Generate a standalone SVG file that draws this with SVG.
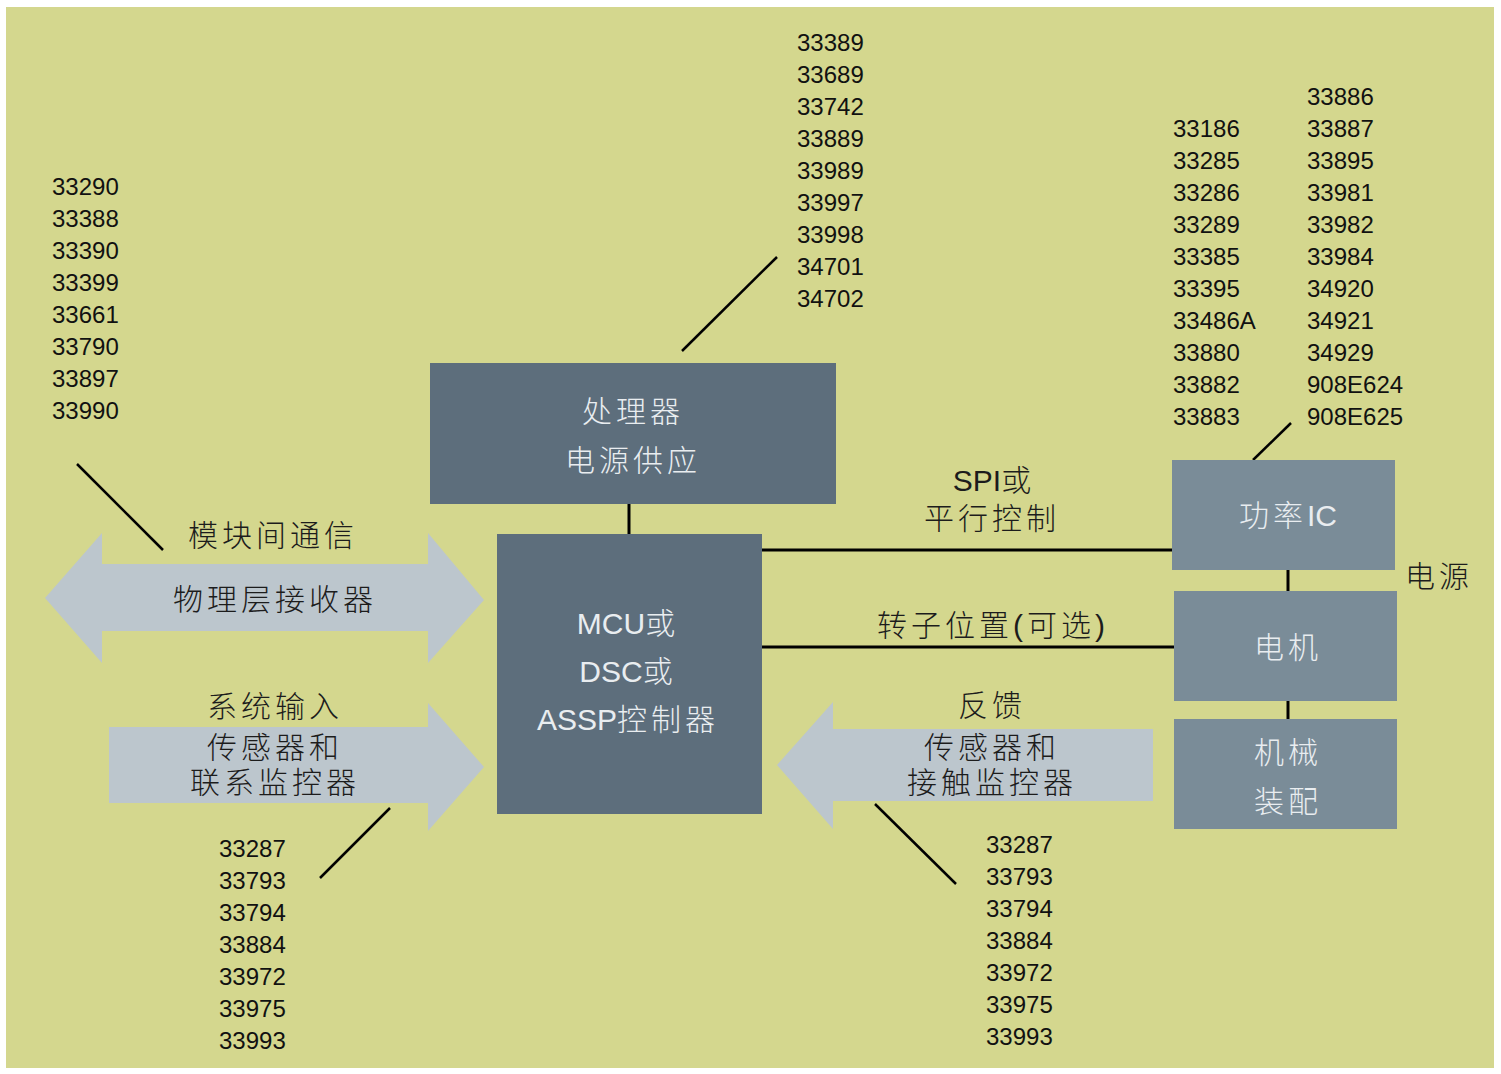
<svg xmlns="http://www.w3.org/2000/svg" width="1501" height="1074" viewBox="0 0 1501 1074">
<style>
.num{font-family:"Liberation Sans","Noto Sans",sans-serif;font-size:24px;fill:#111}
.lbl{font-family:"Liberation Sans","Noto Sans CJK SC",sans-serif;font-size:30px;font-weight:300;fill:#1c1c1c;text-anchor:middle}
.in{fill:#e9edf0}
.cj{letter-spacing:4px}
.dark{fill:#5d6e7c}
.light{fill:#7a8c98}
.arr{fill:#bcc6cd}
.ln{stroke:#000;stroke-width:3;fill:none}
.dg{stroke:#000;stroke-width:2.5;fill:none}
</style>
<rect x="6" y="7" width="1488" height="1061" fill="#d4d78e"/>

<g id="connectors">
<line class="ln" x1="629" y1="503" x2="629" y2="535"/>
<line class="ln" x1="761" y1="550" x2="1173" y2="550"/>
<line class="ln" x1="761" y1="647" x2="1175" y2="647"/>
<line class="ln" x1="1288" y1="569" x2="1288" y2="592"/>
<line class="ln" x1="1288" y1="700" x2="1288" y2="720"/>
<line class="dg" x1="682" y1="351" x2="777" y2="257"/>
<line class="dg" x1="77" y1="464" x2="163" y2="550"/>
<line class="dg" x1="320" y1="878" x2="390" y2="808"/>
<line class="dg" x1="875" y1="804" x2="956" y2="884"/>
<line class="dg" x1="1253" y1="460" x2="1291" y2="423"/>
</g>

<g id="phy-arrow">
<polygon class="arr" points="45,598 102,533 102,564 428,564 428,533 484,600 428,663 428,631 102,631 102,663"/>
<text class="lbl" x="273" y="546"><tspan class="cj">模块间通信</tspan></text>
<text class="lbl" x="275" y="610"><tspan class="cj">物理层接收器</tspan></text>
</g>

<g id="input-arrow">
<polygon class="arr" points="109,727 428,727 428,703 484,767 428,831 428,803 109,803"/>
<text class="lbl" x="275" y="717"><tspan class="cj">系统输入</tspan></text>
<text class="lbl" x="275" y="758"><tspan class="cj">传感器和</tspan></text>
<text class="lbl" x="275" y="793"><tspan class="cj">联系监控器</tspan></text>
</g>

<g id="feedback-arrow">
<polygon class="arr" points="1153,729 833,729 833,702 777,765 833,829 833,801 1153,801"/>
<text class="lbl" x="992" y="716"><tspan class="cj">反馈</tspan></text>
<text class="lbl" x="992" y="758"><tspan class="cj">传感器和</tspan></text>
<text class="lbl" x="992" y="793"><tspan class="cj">接触监控器</tspan></text>
</g>

<g id="psu">
<rect class="dark" x="430" y="363" width="406" height="141"/>
<text class="lbl in" x="633" y="422"><tspan class="cj">处理器</tspan></text>
<text class="lbl in" x="633" y="471"><tspan class="cj">电源供应</tspan></text>
</g>

<g id="mcu">
<rect class="dark" x="497" y="534" width="265" height="280"/>
<text class="lbl in" x="626" y="634">MCU或</text>
<text class="lbl in" x="626" y="682">DSC或</text>
<text class="lbl in" x="628" y="730">ASSP<tspan class="cj">控制器</tspan></text>
</g>

<g id="power-ic">
<rect class="light" x="1172" y="460" width="223" height="110"/>
<text class="lbl in" x="1288" y="526"><tspan class="cj">功率</tspan>IC</text>
</g>

<g id="motor">
<rect class="light" x="1174" y="591" width="223" height="110"/>
<text class="lbl in" x="1288" y="658"><tspan class="cj">电机</tspan></text>
</g>

<g id="mech">
<rect class="light" x="1174" y="719" width="223" height="110"/>
<text class="lbl in" x="1288" y="763"><tspan class="cj">机械</tspan></text>
<text class="lbl in" x="1288" y="812"><tspan class="cj">装配</tspan></text>
</g>

<g id="labels">
<text class="lbl" x="992" y="491">SPI或</text>
<text class="lbl" x="992" y="529"><tspan class="cj">平行控制</tspan></text>
<text class="lbl" x="993" y="636"><tspan class="cj">转子位置(可选)</tspan></text>
<text class="lbl" x="1439" y="587"><tspan class="cj">电源</tspan></text>
</g>

<g id="nums-top">
<text class="num" x="797" y="51">33389</text>
<text class="num" x="797" y="83">33689</text>
<text class="num" x="797" y="115">33742</text>
<text class="num" x="797" y="147">33889</text>
<text class="num" x="797" y="179">33989</text>
<text class="num" x="797" y="211">33997</text>
<text class="num" x="797" y="243">33998</text>
<text class="num" x="797" y="275">34701</text>
<text class="num" x="797" y="307">34702</text>
</g>

<g id="nums-left">
<text class="num" x="52" y="195">33290</text>
<text class="num" x="52" y="227">33388</text>
<text class="num" x="52" y="259">33390</text>
<text class="num" x="52" y="291">33399</text>
<text class="num" x="52" y="323">33661</text>
<text class="num" x="52" y="355">33790</text>
<text class="num" x="52" y="387">33897</text>
<text class="num" x="52" y="419">33990</text>
</g>

<g id="nums-right1">
<text class="num" x="1173" y="137">33186</text>
<text class="num" x="1173" y="169">33285</text>
<text class="num" x="1173" y="201">33286</text>
<text class="num" x="1173" y="233">33289</text>
<text class="num" x="1173" y="265">33385</text>
<text class="num" x="1173" y="297">33395</text>
<text class="num" x="1173" y="329">33486A</text>
<text class="num" x="1173" y="361">33880</text>
<text class="num" x="1173" y="393">33882</text>
<text class="num" x="1173" y="425">33883</text>
</g>

<g id="nums-right2">
<text class="num" x="1307" y="105">33886</text>
<text class="num" x="1307" y="137">33887</text>
<text class="num" x="1307" y="169">33895</text>
<text class="num" x="1307" y="201">33981</text>
<text class="num" x="1307" y="233">33982</text>
<text class="num" x="1307" y="265">33984</text>
<text class="num" x="1307" y="297">34920</text>
<text class="num" x="1307" y="329">34921</text>
<text class="num" x="1307" y="361">34929</text>
<text class="num" x="1307" y="393">908E624</text>
<text class="num" x="1307" y="425">908E625</text>
</g>

<g id="nums-bl">
<text class="num" x="219" y="857">33287</text>
<text class="num" x="219" y="889">33793</text>
<text class="num" x="219" y="921">33794</text>
<text class="num" x="219" y="953">33884</text>
<text class="num" x="219" y="985">33972</text>
<text class="num" x="219" y="1017">33975</text>
<text class="num" x="219" y="1049">33993</text>
</g>

<g id="nums-br">
<text class="num" x="986" y="853">33287</text>
<text class="num" x="986" y="885">33793</text>
<text class="num" x="986" y="917">33794</text>
<text class="num" x="986" y="949">33884</text>
<text class="num" x="986" y="981">33972</text>
<text class="num" x="986" y="1013">33975</text>
<text class="num" x="986" y="1045">33993</text>
</g>
</svg>
